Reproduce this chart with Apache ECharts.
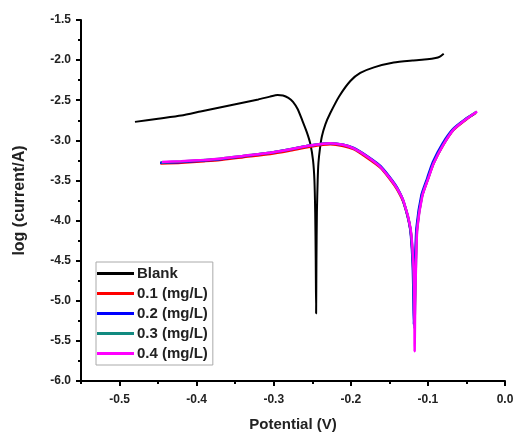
<!DOCTYPE html>
<html>
<head>
<meta charset="utf-8">
<script src="https://cdn.jsdelivr.net/npm/echarts@6/dist/echarts.min.js"></script>
<style>
  html, body { margin: 0; padding: 0; background: #fff; }
  #chart { width: 519px; height: 437px; }
</style>
</head>
<body>
<div id="chart"></div>
<script>
// Tafel curves: [potential (V), log(current/A)]
const blankData = [
  [-0.480, -2.77], [-0.450, -2.73], [-0.420, -2.69], [-0.395, -2.64], [-0.370, -2.59],
  [-0.345, -2.54], [-0.320, -2.49], [-0.305, -2.455], [-0.295, -2.435], [-0.288, -2.44],
  [-0.281, -2.47], [-0.275, -2.52], [-0.269, -2.61], [-0.263, -2.75], [-0.257, -2.90],
  [-0.2526, -3.04], [-0.249, -3.25], [-0.2472, -3.50], [-0.2462, -3.90], [-0.2455, -4.50],
  [-0.245, -5.16], [-0.2446, -4.50], [-0.2440, -3.90], [-0.2430, -3.50], [-0.2420, -3.28],
  [-0.2400, -3.10], [-0.2375, -2.95], [-0.2330, -2.80], [-0.2266, -2.66], [-0.2150, -2.45],
  [-0.2006, -2.26], [-0.1877, -2.16], [-0.1700, -2.09], [-0.1444, -2.03], [-0.1200, -2.005],
  [-0.1010, -1.99], [-0.0900, -1.975], [-0.0850, -1.96], [-0.0795, -1.92]
];
const c01Data = [
  [-0.447, -3.29], [-0.420, -3.28], [-0.390, -3.26], [-0.370, -3.245], [-0.340, -3.21],
  [-0.3045, -3.17], [-0.280, -3.13], [-0.2526, -3.08], [-0.2266, -3.05], [-0.210, -3.07],
  [-0.1964, -3.11], [-0.180, -3.21], [-0.1617, -3.34], [-0.1487, -3.49], [-0.140, -3.61],
  [-0.1314, -3.78], [-0.1227, -4.11], [-0.1195, -4.50], [-0.1182, -4.95], [-0.1176, -5.30],
  [-0.1168, -4.95], [-0.1158, -4.50], [-0.1142, -4.11], [-0.1078, -3.70], [-0.1003, -3.49],
  [-0.0928, -3.29], [-0.0803, -3.06], [-0.0668, -2.87], [-0.0503, -2.74], [-0.0380, -2.66]
];
const c02Data = [
  [-0.4474, -3.28], [-0.420, -3.27], [-0.390, -3.25], [-0.370, -3.235], [-0.340, -3.20],
  [-0.3045, -3.155], [-0.280, -3.115], [-0.2526, -3.065], [-0.2266, -3.035], [-0.210, -3.055],
  [-0.1964, -3.095], [-0.180, -3.19], [-0.1617, -3.32], [-0.1487, -3.47], [-0.140, -3.59],
  [-0.1318, -3.76], [-0.1232, -4.09], [-0.1199, -4.50], [-0.1187, -4.95], [-0.1182, -5.30],
  [-0.1175, -4.95], [-0.1165, -4.50], [-0.1148, -4.09], [-0.1083, -3.68], [-0.1008, -3.47],
  [-0.0935, -3.27], [-0.0810, -3.04], [-0.0675, -2.86], [-0.0520, -2.74], [-0.0404, -2.67]
];
const c03Data = [
  [-0.446, -3.275], [-0.420, -3.265], [-0.390, -3.245], [-0.370, -3.23], [-0.340, -3.195],
  [-0.3045, -3.155], [-0.280, -3.115], [-0.2526, -3.065], [-0.2266, -3.035], [-0.210, -3.055],
  [-0.1964, -3.10], [-0.180, -3.195], [-0.1617, -3.33], [-0.1487, -3.48], [-0.140, -3.60],
  [-0.1314, -3.77], [-0.1227, -4.10], [-0.1193, -4.51], [-0.1180, -5.00], [-0.1174, -5.35],
  [-0.1166, -5.00], [-0.1155, -4.50], [-0.1140, -4.10], [-0.1075, -3.69], [-0.1000, -3.48],
  [-0.0925, -3.28], [-0.0800, -3.05], [-0.0665, -2.86], [-0.0500, -2.73], [-0.0370, -2.645]
];
const c04Data = [
  [-0.445, -3.27], [-0.420, -3.26], [-0.390, -3.245], [-0.370, -3.23], [-0.340, -3.195],
  [-0.3045, -3.155], [-0.280, -3.115], [-0.2526, -3.065], [-0.2266, -3.035], [-0.210, -3.055],
  [-0.1964, -3.10], [-0.180, -3.195], [-0.1617, -3.33], [-0.1487, -3.48], [-0.140, -3.60],
  [-0.1312, -3.77], [-0.1225, -4.10], [-0.1190, -4.51], [-0.1176, -5.00], [-0.1172, -5.63],
  [-0.1165, -5.00], [-0.1153, -4.50], [-0.1138, -4.10], [-0.1072, -3.69], [-0.0997, -3.48],
  [-0.0922, -3.28], [-0.0797, -3.05], [-0.0662, -2.86], [-0.0497, -2.73], [-0.0361, -2.64]
];

const seriesNames = ['Blank', '0.1 (mg/L)', '0.2 (mg/L)', '0.3 (mg/L)', '0.4 (mg/L)'];
const seriesColors = ['#000000', '#ff0000', '#0000ff', '#128a80', '#ff00ff'];
const seriesData = [blankData, c01Data, c02Data, c03Data, c04Data];
const xMajorTicks = [-0.5, -0.4, -0.3, -0.2, -0.1, 0.0];
const xMinorTicks = [-0.55, -0.45, -0.35, -0.25, -0.15, -0.05];

const chart = echarts.init(document.getElementById('chart'));

const labelFont = { fontFamily: 'Liberation Sans, Arial', fontWeight: 'bold', color: '#222' };

const option = {
  animation: false,
  backgroundColor: '#fff',
  grid: { left: 81, right: 14, top: 20, bottom: 54, containLabel: false },
  legend: {
    orient: 'vertical',
    left: 96,
    top: 262,
    icon: 'rect',
    itemWidth: 37,
    itemHeight: 3,
    itemGap: 5,
    padding: [4, 5, 4, 1],
    borderColor: '#aaa',
    borderWidth: 1,
    textStyle: Object.assign({ fontSize: 15, color: '#111', padding: [0, 0, 0, -2] }, labelFont),
    data: seriesNames
  },
  xAxis: [
    {
      type: 'value',
      min: -0.55,
      max: 0,
      name: 'Potential (V)',
      nameLocation: 'middle',
      nameGap: 36,
      nameTextStyle: Object.assign({ fontSize: 15, color: '#111' }, labelFont),
      splitLine: { show: false },
      axisLine: { onZero: false, lineStyle: { color: '#000', width: 2 } },
      axisTick: { length: 5, lineStyle: { width: 2, color: '#000' }, customValues: xMajorTicks },
      axisLabel: Object.assign({
        fontSize: 12, margin: 13,
        customValues: xMajorTicks,
        formatter: v => v.toFixed(1)
      }, labelFont)
    },
    {
      type: 'value',
      min: -0.55,
      max: 0,
      position: 'bottom',
      splitLine: { show: false },
      axisLine: { show: false, onZero: false },
      axisTick: { length: 3, lineStyle: { width: 2, color: '#000' }, customValues: xMinorTicks },
      axisLabel: { show: false }
    }
  ],
  yAxis: {
    type: 'value',
    min: -6,
    max: -1.5,
    interval: 0.5,
    name: 'log (current/A)',
    nameLocation: 'middle',
    nameGap: 53,
    nameTextStyle: Object.assign({ fontSize: 16, color: '#111' }, labelFont),
    splitLine: { show: false },
    axisLine: { show: true, onZero: false, lineStyle: { color: '#000', width: 2 } },
    axisTick: { length: 5, lineStyle: { width: 2, color: '#000' } },
    minorTick: { show: true, splitNumber: 2, length: 3, lineStyle: { width: 2, color: '#000' } },
    axisLabel: Object.assign({ fontSize: 12, margin: 10, formatter: v => v.toFixed(1) }, labelFont)
  },
  series: seriesData.map((d, i) => ({
    name: seriesNames[i],
    type: 'line',
    data: d,
    showSymbol: false,
    symbol: 'none',
    smooth: 0.2,
    color: seriesColors[i],
    lineStyle: { width: i === 0 ? 2 : 2.5, color: seriesColors[i] }
  }))
};

chart.setOption(option);
</script>
</body>
</html>
